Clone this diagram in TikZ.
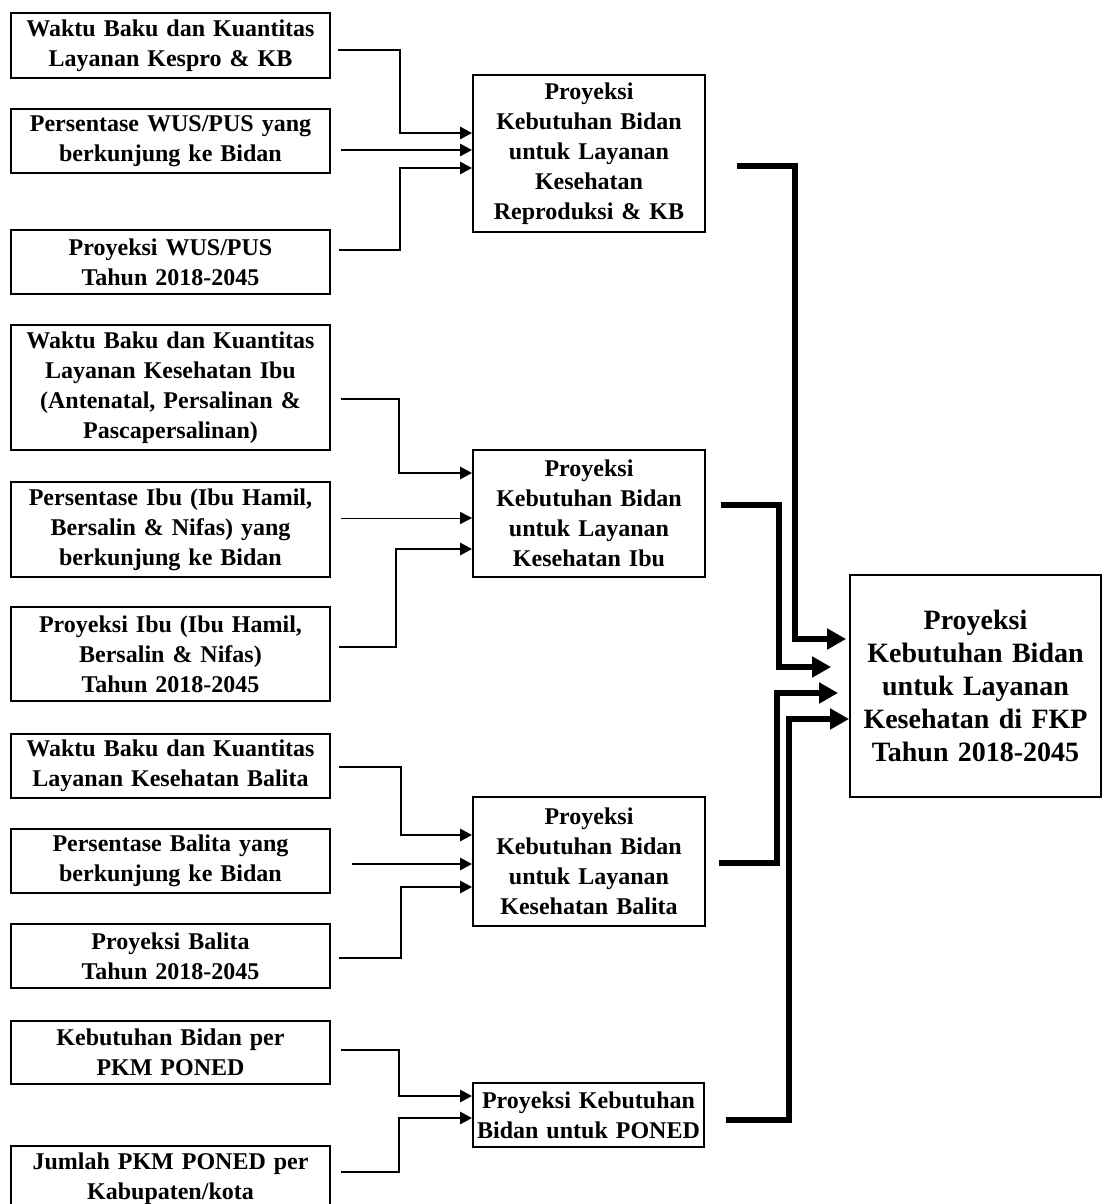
\documentclass[tikz,border=0pt]{standalone}
\usepackage{fontspec}
\setmainfont{Liberation Serif}
\usetikzlibrary{calc,arrows.meta}
\begin{document}
\begin{tikzpicture}[x=0.5pt,y=-0.5pt,
 box/.style={draw=black, line width=0.9pt, inner sep=0pt, align=center, font=\fontsize{12}{15}\selectfont\bfseries},
 lbox/.style={box, minimum width=159.5pt, text width=155pt},
 mbox/.style={box, minimum width=116pt, text width=112pt},
 conn/.style={line width=1.3pt, -{Triangle[length=6pt,width=6pt]}},
 hair/.style={line width=0.5pt, -{Triangle[length=6pt,width=6pt]}},
 bigconn/.style={line width=3pt, -{Triangle[length=9.5pt,width=10pt]}}
]
\clip (0,0) rectangle (1104,1204);
\fill[white] (0,0) rectangle (1104,1204);

% group 1
\node[lbox, minimum height=32.5pt] (A1) at (170.5,45.5) {Waktu Baku dan Kuantitas\\Layanan Kespro \& KB};
\node[lbox, minimum height=32pt] (A2) at (170.5,141) {Persentase WUS/PUS yang\\berkunjung ke Bidan};
\node[lbox, minimum height=32pt] (A3) at (170.5,262) {Proyeksi WUS/PUS\\Tahun 2018-2045};
\node[mbox, minimum height=78.5pt] (M1) at (589,153.5) {Proyeksi\\Kebutuhan Bidan\\untuk Layanan\\Kesehatan\\Reproduksi \& KB};

% group 2
\node[lbox, minimum height=62.5pt] (B1) at (170.5,387.5) {Waktu Baku dan Kuantitas\\Layanan Kesehatan Ibu\\(Antenatal, Persalinan \&\\Pascapersalinan)};
\node[lbox, minimum height=47.5pt] (B2) at (170.5,529.5) {Persentase Ibu (Ibu Hamil,\\Bersalin \& Nifas) yang\\berkunjung ke Bidan};
\node[lbox, minimum height=47pt] (B3) at (170.5,654) {Proyeksi Ibu (Ibu Hamil,\\Bersalin \& Nifas)\\Tahun 2018-2045};
\node[mbox, minimum height=63.5pt] (M2) at (589,513.5) {Proyeksi\\Kebutuhan Bidan\\untuk Layanan\\Kesehatan Ibu};

% group 3
\node[lbox, minimum height=32pt] (C1) at (170.5,766) {Waktu Baku dan Kuantitas\\Layanan Kesehatan Balita};
\node[lbox, minimum height=32pt] (C2) at (170.5,861) {Persentase Balita yang\\berkunjung ke Bidan};
\node[lbox, minimum height=32pt] (C3) at (170.5,956) {Proyeksi Balita\\Tahun 2018-2045};
\node[mbox, minimum height=64.5pt] (M3) at (589,861.5) {Proyeksi\\Kebutuhan Bidan\\untuk Layanan\\Kesehatan Balita};

% group 4
\node[lbox, minimum height=31.5pt] (D1) at (170.5,1052.5) {Kebutuhan Bidan per\\PKM PONED};
\node[lbox, minimum height=33pt] (D2) at (170.5,1179) {Jumlah PKM PONED per\\Kabupaten/kota};
\node[mbox, minimum height=32pt, minimum width=115.5pt] (M4) at (588.5,1115) {Proyeksi Kebutuhan\\Bidan untuk PONED};

% final
\node[box, font=\fontsize{14}{16.5}\selectfont\bfseries, minimum width=125.5pt, minimum height=111pt, text width=122pt] (F) at (975.5,686) {Proyeksi\\Kebutuhan Bidan\\untuk Layanan\\Kesehatan di FKP\\Tahun 2018-2045};

% connectors group 1
\draw[conn] ($(A1.east)+(7,4.5)$) -| ($(M1.west)+(-72,-20.5)$) -- ($(M1.west)+(0,-20.5)$);
\draw[conn] ($(A2.east)+(10,9)$) -- ($(M1.west)+(0,-3.5)$);
\draw[conn] ($(A3.east)+(8,-12)$) -| ($(M1.west)+(-72,14.5)$) -- ($(M1.west)+(0,14.5)$);

% connectors group 2
\draw[conn] ($(B1.east)+(10,11.5)$) -| ($(M2.west)+(-73,-40.5)$) -- ($(M2.west)+(0,-40.5)$);
\draw[hair] ($(B2.east)+(10,-11.5)$) -- ($(M2.west)+(0,4.5)$);
\draw[conn] ($(B3.east)+(8,-7)$) -| ($(M2.west)+(-76,35.5)$) -- ($(M2.west)+(0,35.5)$);

% connectors group 3
\draw[conn] ($(C1.east)+(8,1)$) -| ($(M3.west)+(-71,-26.5)$) -- ($(M3.west)+(0,-26.5)$);
\draw[conn] ($(C2.east)+(21,3)$) -- ($(M3.west)+(0,2.5)$);
\draw[conn] ($(C3.east)+(8,2)$) -| ($(M3.west)+(-71,25.5)$) -- ($(M3.west)+(0,25.5)$);

% connectors group 4
\draw[conn] ($(D1.east)+(10,-2.5)$) -| ($(M4.west)+(-73,-19)$) -- ($(M4.west)+(0,-19)$);
\draw[conn] ($(D2.east)+(10,-7)$) -| ($(M4.west)+(-73,3)$) -- ($(M4.west)+(0,3)$);

% thick outputs
\draw[bigconn] ($(M1.east)+(31,12.5)$) -| ($(F.west)+(-54,-47)$) -- ($(F.west)+(-3,-47)$);
\draw[bigconn] ($(M2.east)+(15,-8.5)$) -| ($(F.west)+(-70,-19)$) -- ($(F.west)+(-18,-19)$);
\draw[bigconn] ($(M3.east)+(13,1.5)$) -| ($(F.west)+(-72,7)$) -- ($(F.west)+(-11,7)$);
\draw[bigconn] ($(M4.east)+(21,5)$) -| ($(F.west)+(-60,33)$) -- ($(F.west)+(0,33)$);
\end{tikzpicture}
\end{document}
